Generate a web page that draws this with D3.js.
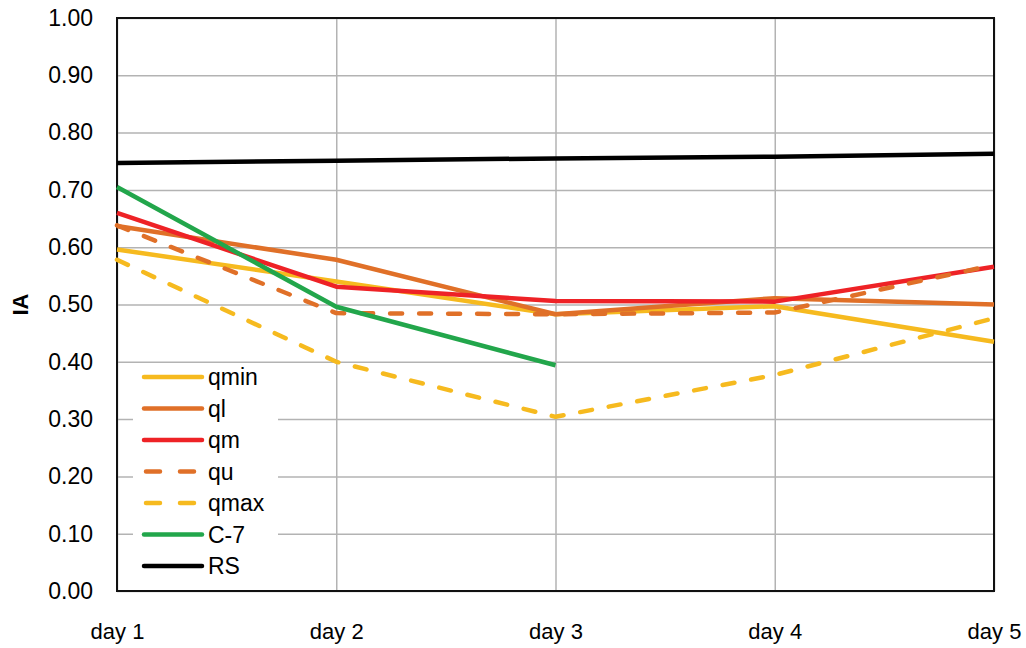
<!DOCTYPE html>
<html>
<head>
<meta charset="utf-8">
<script src="https://cdn.jsdelivr.net/npm/d3@7"></script>
<style>
  html, body { margin: 0; padding: 0; background: #fff; }
  svg { display: block; }
  text { font-family: "Liberation Sans", Arial, sans-serif; fill: #000; }
</style>
</head>
<body>
<svg id="chart" width="1026" height="648"></svg>
<script>
// Categories and tick labels
const days = ["day 1", "day 2", "day 3", "day 4", "day 5"];
const yTicks = [0, 0.1, 0.2, 0.3, 0.4, 0.5, 0.6, 0.7, 0.8, 0.9, 1.0];

// Series values (IA per day)
const qmin = [0.596, 0.540, 0.483, 0.497, 0.435];
const ql   = [0.637, 0.578, 0.483, 0.511, 0.500];
const qm   = [0.660, 0.531, 0.506, 0.505, 0.566];
const qu   = [0.638, 0.485, 0.483, 0.486, 0.569];
const qmax = [0.578, 0.400, 0.304, 0.377, 0.476];
const c7   = [0.705, 0.496, 0.394];
const rs   = [0.747, 0.751, 0.755, 0.758, 0.763];

const series = [
  { name: "qmin", values: qmin, color: "#F6BA1F", dash: null },
  { name: "ql",   values: ql,   color: "#E07028", dash: null },
  { name: "qm",   values: qm,   color: "#EE2226", dash: null },
  { name: "qu",   values: qu,   color: "#E07028", dash: "12,17" },
  { name: "qmax", values: qmax, color: "#F6BA1F", dash: "12,17" },
  { name: "C-7",  values: c7,   color: "#22A64B", dash: null },
  { name: "RS",   values: rs,   color: "#000000", dash: null }
];

const svg = d3.select("#chart");
const margin = { left: 117, right: 32, top: 18, bottom: 57 };
const W = 1026, H = 648;
const innerW = W - margin.left - margin.right;
const innerH = H - margin.top - margin.bottom;

const x = d3.scalePoint().domain(days).range([0, innerW]);
const y = d3.scaleLinear().domain([0, 1]).range([innerH, 0]);

const g = svg.append("g").attr("transform", `translate(${margin.left},${margin.top})`);

// Horizontal gridlines
g.append("g")
  .call(d3.axisLeft(y).tickValues(yTicks).tickSize(-innerW).tickFormat(""))
  .call(a => a.select(".domain").remove())
  .call(a => a.selectAll("line").attr("stroke", "#b3b3b3").attr("stroke-width", 1.5));

// Vertical gridlines
g.append("g")
  .attr("transform", `translate(0,${innerH})`)
  .call(d3.axisBottom(x).tickSize(-innerH).tickFormat(""))
  .call(a => a.select(".domain").remove())
  .call(a => a.selectAll("line").attr("stroke", "#b3b3b3").attr("stroke-width", 1.5));

// Y tick labels
g.append("g")
  .call(d3.axisLeft(y).tickValues(yTicks).tickSize(0).tickPadding(24).tickFormat(d3.format(".2f")))
  .call(a => a.select(".domain").remove())
  .call(a => a.selectAll("text").attr("font-size", 23).attr("font-family", "Liberation Sans, Arial, sans-serif"));

// X tick labels
g.append("g")
  .attr("transform", `translate(0,${innerH})`)
  .call(d3.axisBottom(x).tickSize(0).tickPadding(32))
  .call(a => a.select(".domain").remove())
  .call(a => a.selectAll("text").attr("font-size", 22).attr("font-family", "Liberation Sans, Arial, sans-serif"));

// Plot frame
g.append("rect")
  .attr("x", 0).attr("y", 0).attr("width", innerW).attr("height", innerH)
  .attr("fill", "none").attr("stroke", "#111").attr("stroke-width", 2);

// Y axis title
svg.append("text")
  .attr("transform", `translate(28,${margin.top + innerH / 2}) rotate(-90)`)
  .attr("text-anchor", "middle")
  .attr("font-size", 22).attr("font-weight", "bold")
  .text("IA");

// Lines
const line = d3.line()
  .x((d, i) => x(days[i]))
  .y(d => y(d));

g.selectAll("path.series")
  .data(series)
  .join("path")
  .attr("class", "series")
  .attr("d", d => line(d.values))
  .attr("fill", "none")
  .attr("stroke", d => d.color)
  .attr("stroke-width", 4.5)
  .attr("stroke-linejoin", "round")
  .attr("stroke-linecap", d => d.dash ? "round" : "butt")
  .attr("stroke-dasharray", d => d.dash);

// Legend
const legend = svg.append("g");
legend.append("rect")
  .attr("x", 133).attr("y", 364).attr("width", 145).attr("height", 222)
  .attr("fill", "#fff");

const legY = d3.scalePoint().domain(series.map(s => s.name)).range([377, 566]);
const item = legend.selectAll("g.item")
  .data(series)
  .join("g")
  .attr("class", "item")
  .attr("transform", d => `translate(0,${legY(d.name)})`);

item.append("line")
  .attr("x1", d => d.dash ? 146 : 144).attr("x2", d => d.dash ? 198 : 202)
  .attr("y1", 0).attr("y2", 0)
  .attr("stroke", d => d.color)
  .attr("stroke-width", 4.5)
  .attr("stroke-linecap", "round")
  .attr("stroke-dasharray", d => d.dash ? "14,20" : null);

item.append("text")
  .attr("x", 208).attr("y", 0).attr("dy", "0.35em")
  .attr("font-size", 23)
  .text(d => d.name);
</script>
</body>
</html>
